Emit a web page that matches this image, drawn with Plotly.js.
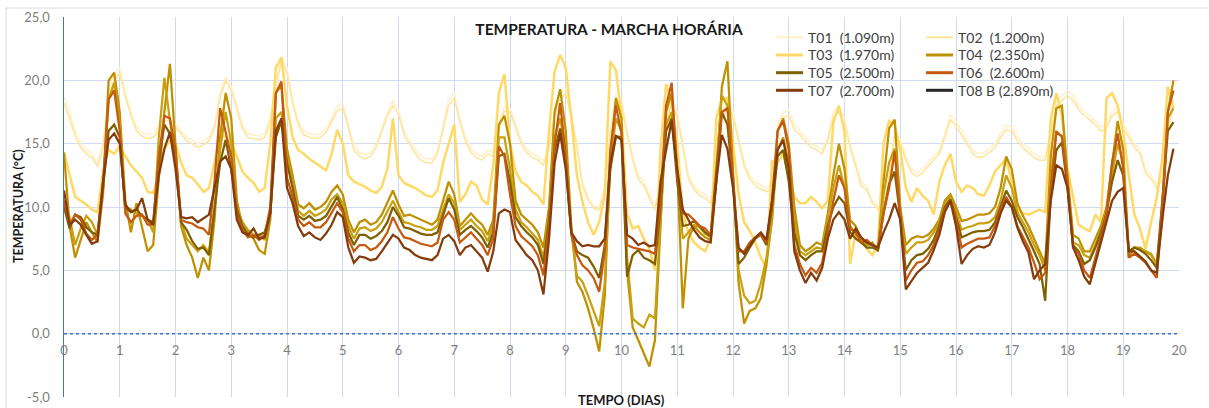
<!DOCTYPE html>
<html><head><meta charset="utf-8">
<script src="https://cdn.plot.ly/plotly-3.0.1.min.js"></script>
<style>html,body{margin:0;padding:0;background:#fff}#chart{width:1209px;height:408px}</style>
</head><body><div id="chart"></div>
<script>
// Values, one reading every 0.1 day (rows = days 0..19)
const T01 = [
18.7,17.5,16.0,15.0,14.5,14.2,13.4,15.0,19.0,20.5,
21.0,19.0,17.5,16.3,15.9,15.7,15.8,16.3,17.0,17.0,
16.5,16.0,15.5,15.3,15.0,15.2,15.5,16.5,19.0,20.3,
19.5,18.0,16.5,15.8,15.7,15.6,15.8,17.0,20.0,21.9,
21.0,18.5,16.8,16.0,15.8,15.7,15.8,16.2,17.0,18.0,
18.2,16.6,14.8,14.3,14.1,14.3,15.0,16.2,17.5,18.4,
17.6,16.0,15.2,14.5,14.0,13.8,13.8,14.5,16.5,18.5,
19.0,17.0,15.5,14.6,14.2,14.0,14.5,14.3,16.5,18.0,
17.8,16.5,15.3,14.6,14.2,14.0,13.6,15.0,17.5,19.0,
19.3,17.5,15.0,12.0,10.8,10.1,10.0,11.5,16.0,18.8,
18.5,16.0,14.0,12.5,12.0,11.0,10.0,12.0,17.0,18.6,
17.5,15.0,12.5,11.7,11.2,11.0,10.6,12.5,17.0,18.5,
17.5,15.5,13.5,12.5,12.0,11.7,11.5,11.8,16.5,17.5,
17.6,16.5,16.0,15.5,15.0,14.8,14.5,15.5,17.5,17.9,
17.0,15.0,13.5,12.0,11.6,10.5,10.0,10.2,12.5,16.0,
15.3,14.0,13.0,12.7,13.0,13.5,14.0,14.5,15.8,17.3,
16.8,16.0,15.3,14.5,14.2,14.3,14.6,15.0,15.8,16.5,
16.3,15.5,15.0,14.6,14.2,14.0,14.0,16.0,18.4,18.8,
19.2,18.8,18.0,17.5,17.2,16.8,16.3,16.5,17.5,17.9,
16.5,15.8,15.0,14.5,13.0,12.5,11.8,12.5,16.5,18.5];
const T02 = [
18.2,17.0,15.6,14.7,14.2,13.9,13.2,14.6,18.5,20.0,
20.6,18.7,17.2,16.0,15.6,15.4,15.5,16.0,16.8,16.9,
16.3,15.8,15.2,15.0,14.7,14.9,15.2,16.2,18.6,20.0,
19.2,17.6,16.2,15.5,15.4,15.3,15.5,16.7,19.5,21.5,
20.6,18.2,16.5,15.7,15.5,15.4,15.5,15.9,16.7,17.6,
17.8,16.3,14.5,14.0,13.8,14.0,14.7,15.9,17.2,18.0,
17.3,15.7,14.9,14.2,13.7,13.5,13.5,14.2,16.1,18.0,
18.6,16.7,15.2,14.3,13.9,13.7,14.2,14.0,16.2,17.6,
17.5,16.2,15.0,14.3,13.9,13.7,13.3,14.7,17.1,18.6,
18.9,17.2,14.7,11.7,10.5,9.9,9.8,11.2,15.7,18.4,
18.1,15.7,13.7,12.2,11.7,10.7,9.8,11.7,16.6,18.2,
17.1,14.7,12.2,11.4,10.9,10.7,10.3,12.2,16.7,18.1,
17.1,15.2,13.2,12.2,11.7,11.4,11.2,11.5,16.1,17.1,
17.2,16.1,15.7,15.2,14.7,14.5,14.2,15.2,17.1,17.5,
16.6,14.7,13.2,11.7,11.3,10.3,9.8,10.0,12.2,15.7,
15.0,13.7,12.7,12.4,12.7,13.2,13.7,14.2,15.5,16.9,
16.4,15.7,15.0,14.2,13.9,14.0,14.3,14.7,15.5,16.1,
16.0,15.2,14.7,14.3,13.9,13.7,13.7,15.7,18.0,18.4,
18.8,18.4,17.7,17.2,16.9,16.5,16.0,16.2,17.2,17.5,
16.2,15.5,14.7,14.2,12.7,12.2,11.5,12.2,16.1,18.0];
const T03 = [
14.3,12.5,10.8,10.5,10.2,9.8,9.6,12.8,14.5,14.2,
14.8,14.0,13.3,12.8,12.3,11.2,11.1,12.5,14.5,15.3,
15.0,13.5,12.5,12.3,11.8,11.2,11.5,13.5,15.8,15.5,
15.0,14.0,12.8,12.3,11.9,11.2,11.5,15.0,21.0,21.8,
18.0,15.5,14.5,14.2,13.8,13.5,13.2,12.9,14.2,16.1,
15.0,12.5,12.0,11.8,11.6,11.3,11.1,11.6,13.0,17.0,
12.5,11.9,11.7,11.5,11.2,10.9,10.8,11.3,13.5,15.0,
16.5,10.4,11.0,12.0,11.7,10.6,10.2,13.3,19.0,20.5,
15.1,12.8,12.0,11.7,11.2,10.9,10.2,16.0,20.7,22.0,
21.0,17.0,12.5,10.4,8.8,7.8,8.8,11.0,21.5,20.8,
17.2,9.5,8.3,8.5,7.5,6.7,5.0,14.6,19.7,18.2,
15.0,9.5,8.0,7.2,6.8,6.5,7.5,17.0,18.5,18.6,
15.1,11.0,8.8,8.1,7.2,6.0,5.2,13.6,13.5,14.2,
12.5,10.8,10.3,10.3,10.8,10.4,9.9,10.5,16.7,18.0,
15.9,5.5,8.0,7.5,6.7,6.2,7.0,15.0,16.8,16.5,
14.5,11.5,10.4,11.5,10.9,10.5,9.4,12.0,13.3,14.2,
12.0,11.2,11.7,11.5,11.0,10.9,11.7,12.8,13.3,13.8,
12.0,9.8,9.5,9.4,9.6,9.8,9.6,17.0,19.0,17.2,
13.0,10.9,8.6,8.3,8.1,9.4,8.8,18.6,19.0,18.0,
15.9,12.5,9.4,8.3,6.7,8.8,10.7,13.8,19.5,17.8];
const T04 = [
14.3,8.5,6.0,7.5,8.8,8.0,7.2,11.0,20.0,20.6,
17.5,10.5,8.0,10.3,8.5,6.5,7.0,12.0,17.5,21.3,
15.0,8.5,7.0,6.0,4.4,6.0,5.0,9.0,15.5,19.0,
17.0,10.5,8.5,8.0,7.5,6.6,6.3,9.0,19.0,19.6,
14.6,12.5,10.2,9.9,10.3,9.8,10.0,10.4,11.2,11.7,
11.0,9.0,8.0,8.8,9.0,8.6,8.8,9.4,10.3,11.3,
10.2,9.3,9.4,9.2,9.0,8.8,8.6,9.0,10.5,12.0,
11.0,8.5,9.0,9.5,9.0,8.6,7.8,9.0,16.5,17.2,
15.0,10.5,9.4,9.0,8.6,8.0,6.8,10.0,17.5,19.3,
16.0,8.5,4.1,3.3,2.0,0.4,-1.4,3.0,14.0,18.6,
17.0,5.0,0.5,-0.5,-1.5,-2.6,-0.5,8.0,17.5,19.0,
13.0,2.0,7.5,8.5,8.0,7.6,7.4,12.0,19.5,21.5,
13.0,4.0,0.8,1.8,2.0,2.8,5.5,9.0,16.0,17.0,
15.0,10.0,7.0,6.5,6.8,7.2,7.0,9.5,12.5,15.0,
13.0,9.0,8.5,7.5,7.0,7.2,6.5,12.0,16.2,16.9,
10.0,7.0,7.5,7.7,7.6,7.8,8.3,9.0,10.5,11.0,
10.0,8.9,9.0,9.2,9.4,9.4,9.5,10.0,11.5,14.0,
13.0,10.3,9.3,8.5,7.5,6.5,5.5,14.0,17.8,18.0,
12.5,7.8,7.5,6.5,6.5,7.5,8.5,10.0,13.5,16.8,
14.5,6.0,6.8,6.8,6.5,6.3,5.5,9.0,17.5,20.0];
// second gold curve visible in the plot (not listed separately in the legend)
const T04_EXTRA = [
10.5,9.2,7.0,8.3,9.3,8.8,7.8,11.5,18.5,19.8,
16.5,10.0,9.8,9.5,9.3,9.0,8.0,15.5,20.2,17.0,
13.5,8.8,7.5,7.0,6.5,7.0,6.4,10.0,14.5,17.5,
15.0,10.0,8.8,8.2,7.8,7.8,7.4,9.5,17.0,17.5,
14.0,12.0,9.7,9.3,9.7,9.3,9.5,9.8,10.6,11.0,
10.3,8.5,7.5,8.3,8.4,8.1,8.3,8.8,9.6,10.5,
9.6,8.8,8.7,8.5,8.4,8.2,8.2,8.5,9.8,11.0,
10.3,8.2,8.6,9.0,8.5,8.1,7.3,8.5,15.5,15.5,
13.0,9.8,8.8,8.4,7.9,7.4,6.0,9.5,15.5,17.0,
14.5,8.0,4.6,4.1,3.0,1.8,0.6,4.0,13.5,17.0,
16.0,6.0,1.2,0.8,0.5,1.5,1.2,9.0,16.5,17.5,
12.5,7.5,8.0,8.6,8.4,7.9,7.6,13.0,18.8,18.0,
12.5,5.0,3.0,2.4,2.6,4.0,6.0,9.0,14.5,15.5,
13.5,9.0,6.5,6.2,6.5,6.8,6.7,9.0,11.5,13.3,
11.5,8.5,7.8,7.2,7.0,7.0,6.6,11.0,13.5,14.6,
9.5,6.3,6.8,7.2,7.2,7.4,8.0,8.8,10.2,10.8,
9.6,8.2,8.4,8.5,8.7,8.7,8.8,9.2,10.5,12.5,
11.5,9.6,8.8,8.0,7.0,6.2,5.0,12.0,16.0,15.5,
12.0,7.2,7.0,6.2,6.0,7.0,8.2,9.8,12.5,15.0,
13.5,6.5,6.8,6.7,6.5,6.2,5.5,10.0,17.0,17.8];
const T05 = [
10.0,8.3,9.4,9.2,8.4,8.0,7.8,11.5,16.0,16.5,
15.5,10.0,9.6,9.8,9.3,9.0,8.8,13.5,16.5,15.8,
14.0,8.8,8.2,7.3,6.7,6.8,6.2,10.0,13.5,15.3,
13.0,9.8,8.5,7.8,7.6,7.8,8.0,9.5,15.5,16.8,
13.5,11.5,9.3,9.0,9.3,8.9,9.0,9.3,10.0,10.8,
9.8,8.0,7.0,7.8,7.8,7.5,7.7,8.1,8.8,10.0,
9.3,8.4,8.3,8.1,7.9,7.8,7.8,8.0,9.3,10.7,
9.8,7.8,8.2,8.5,8.1,7.6,6.8,8.0,14.0,14.2,
12.0,9.2,8.5,8.0,7.6,7.0,5.5,9.0,14.5,16.2,
13.5,8.0,6.5,6.2,6.0,5.3,4.4,7.0,13.0,15.6,
15.5,4.5,6.2,6.6,6.0,5.8,5.5,10.0,16.0,17.0,
12.0,8.5,8.6,8.9,8.5,8.0,7.7,12.5,17.5,16.5,
12.0,5.5,6.0,6.8,7.5,7.8,7.0,10.0,14.0,14.5,
12.0,8.0,6.2,5.8,6.2,6.5,6.5,8.5,10.0,10.8,
10.3,8.0,7.5,7.2,6.8,6.8,6.6,9.5,11.8,12.8,
9.2,5.0,5.8,6.2,6.3,6.7,7.4,8.5,10.0,10.6,
9.2,7.6,7.8,8.0,8.1,8.1,8.2,8.8,10.0,11.3,
10.5,9.2,8.4,7.5,6.5,5.5,2.6,11.0,14.5,15.1,
11.5,7.0,6.5,5.5,5.8,6.8,8.0,9.5,12.0,13.7,
12.5,6.5,6.8,6.6,6.3,5.8,5.2,10.5,16.0,16.7];
const T06 = [
10.5,8.6,9.4,9.0,7.9,7.4,7.8,12.0,18.5,19.2,
16.0,9.5,8.8,9.3,9.4,8.6,8.6,14.0,17.2,17.0,
14.5,9.0,8.8,8.7,8.4,8.3,7.8,12.0,17.8,16.0,
14.0,9.5,8.2,7.6,7.8,7.4,7.8,10.0,19.0,19.9,
12.3,10.8,9.0,8.5,8.8,8.4,8.4,8.8,9.5,10.3,
9.6,7.5,6.5,7.0,7.0,6.6,6.8,7.3,8.0,9.2,
8.3,7.6,7.5,7.3,7.1,7.0,6.9,7.2,9.0,9.6,
9.0,7.2,7.6,8.0,7.5,7.0,6.2,7.5,14.8,14.0,
11.0,8.5,7.7,7.3,6.9,6.2,4.6,8.5,15.0,18.2,
14.0,7.8,6.2,5.4,5.0,4.4,3.3,6.5,14.5,18.0,
15.8,7.0,6.8,6.7,6.6,6.5,6.3,10.5,18.0,19.8,
12.5,9.5,9.4,9.0,8.5,8.3,7.8,12.0,17.5,17.8,
12.3,6.5,6.5,7.2,7.6,7.9,7.2,10.5,16.0,16.8,
14.5,7.0,5.5,4.6,5.2,4.8,5.6,8.0,10.5,12.5,
11.5,8.3,8.0,7.2,7.4,7.0,6.8,9.5,11.5,14.4,
9.5,4.2,5.0,5.6,5.7,6.2,7.0,8.2,9.8,10.5,
9.0,6.8,7.1,7.3,7.5,7.5,7.6,8.5,9.8,10.8,
10.0,8.5,7.6,6.8,5.6,4.3,4.8,11.5,15.9,15.6,
12.0,6.8,6.3,5.0,4.4,6.0,7.6,9.5,13.5,15.8,
13.0,6.0,6.3,6.0,5.6,5.0,4.4,10.0,17.5,19.2];
const T07 = [
11.3,8.6,9.0,8.6,7.8,7.1,7.3,12.0,15.3,15.8,
15.0,10.2,9.6,9.8,10.7,9.0,8.6,12.5,14.6,15.9,
13.0,9.2,9.1,9.2,8.8,9.1,9.4,11.5,13.6,14.0,
13.0,9.0,8.0,7.8,8.3,7.5,7.6,9.5,16.0,17.0,
11.5,10.3,8.5,7.7,8.0,7.6,7.4,7.9,8.6,9.6,
9.2,6.8,5.6,6.1,6.0,5.8,5.9,6.5,7.2,7.8,
7.5,6.8,6.6,6.2,6.0,5.9,5.8,6.2,7.5,7.8,
7.3,6.2,6.8,7.0,6.5,6.0,4.9,6.5,9.5,9.8,
9.6,7.4,6.8,6.2,5.8,5.0,3.1,7.5,13.5,15.8,
13.0,8.0,7.3,6.9,7.0,6.9,6.9,7.5,13.5,15.6,
15.3,7.8,7.5,7.0,7.2,6.9,7.0,12.0,14.5,16.8,
13.0,9.8,9.0,8.2,7.6,7.3,7.2,12.0,15.7,14.6,
11.5,6.8,6.3,7.0,7.6,8.0,7.4,10.5,14.5,15.3,
13.0,6.5,5.0,4.0,4.8,4.2,5.2,7.5,9.0,9.6,
9.0,7.5,8.3,7.6,7.2,7.0,6.8,8.0,9.0,10.3,
9.0,3.5,4.2,4.8,5.2,5.6,6.6,7.8,9.6,10.5,
8.5,5.5,6.2,6.7,6.9,6.8,7.0,8.0,9.5,10.5,
10.0,8.4,7.3,6.4,4.3,5.0,5.5,10.5,13.3,13.0,
11.5,6.8,5.8,4.5,3.9,5.5,7.2,8.8,10.5,11.2,
11.5,6.5,6.5,6.1,5.7,5.0,4.8,9.0,12.5,14.6];
const T08B = []; // no visible curve in the reference

const legendLabels = ['T01\u00a0 (1.090m)','T02\u00a0 (1.200m)','T03\u00a0 (1.970m)','T04\u00a0 (2.350m)',
  'T05\u00a0 (2.500m)','T06\u00a0 (2.600m)','T07\u00a0 (2.700m)','T08 B (2.890m)'];
const xTicks = [0,1,2,3,4,5,6,7,8,9,10,11,12,13,14,15,16,17,18,19,20];
const yTicks = [-5,0,5,10,15,20,25];
const yTickText = ['-5,0','0,0','5,0','10,0','15,0','20,0','25,0'];

const STEP = 0.1;
const days = T01.map((_, i) => Math.round(i * STEP * 10) / 10);

const colors = {T01:'#fff0c8', T02:'#ffe49a', T03:'#ffd966', T04:'#bf9000', T04x:'#c8a010',
  T05:'#7f6000', T06:'#c55a11', T07:'#843c0c', T08:'#262626'};

function tr(y, color, width) {
  return {x: days.slice(0, y.length), y: y, type:'scatter', mode:'lines',
    line:{color: color, width: width}, hoverinfo:'skip', showlegend:false};
}
const traces = [
  tr(T01, colors.T01, 1.5), tr(T02, colors.T02, 1.5), tr(T03, colors.T03, 2.5),
  tr(T04, colors.T04, 2.25), tr(T04_EXTRA, colors.T04x, 2.25), tr(T05, colors.T05, 2.25),
  tr(T06, colors.T06, 2.25), tr(T07, colors.T07, 2.25), tr(T08B, colors.T08, 2.25)
];

// Layout geometry (pixels -> paper)
const L = 64, R = 30, T = 17, B = 11, W = 1209, H = 408;
const PW = W - L - R, PH = H - T - B;
const px = v => (v - L) / PW;
const py = v => (H - B - v) / PH;

const shapes = [
  {type:'line', xref:'x', yref:'y', x0:0, x1:20, y0:0, y1:0, line:{color:'#4472c4', width:1.5, dash:'dot'}},
  {type:'line', xref:'paper', yref:'paper', x0:px(6), x1:px(1209), y0:py(8), y1:py(8), line:{color:'#d9d9d9', width:1}},
  {type:'line', xref:'paper', yref:'paper', x0:px(6), x1:px(6), y0:py(8), y1:py(408), line:{color:'#d9d9d9', width:1}}
];
const annotations = [
  {text:'<b>TEMPO (DIAS)</b>', xref:'paper', yref:'paper', x:px(621), y:py(400), showarrow:false,
   xanchor:'center', yanchor:'middle', font:{size:13, color:'#1a1a1a'}},
  {text:'<b>TEMPERATURA (°C)</b>', xref:'paper', yref:'paper', x:px(18), y:py(206), showarrow:false,
   textangle:-90, xanchor:'center', yanchor:'middle', font:{size:12.5, color:'#1a1a1a'}}
];
// manual two-column legend
const legColors = [colors.T01, colors.T02, colors.T03, colors.T04, colors.T05, colors.T06, colors.T07, colors.T08];
const legWidths = [2, 2, 3, 3, 3, 3, 3, 3];
const rowsY = [37.3, 55, 72.7, 90.3];
legendLabels.forEach((lab, i) => {
  const col = i % 2, row = Math.floor(i / 2);
  const lx0 = col === 0 ? 776 : 926;
  const yy = py(rowsY[row]);
  shapes.push({type:'line', xref:'paper', yref:'paper', x0:px(lx0), x1:px(lx0 + 27), y0:yy, y1:yy,
    line:{color: legColors[i], width: legWidths[i]}});
  annotations.push({text: lab, xref:'paper', yref:'paper', x:px(lx0 + 30), y:yy, showarrow:false,
    xanchor:'left', yanchor:'middle', font:{size:14, color:'#404040'}});
});

const layout = {
  width: W, height: H,
  margin:{l:L, r:R, t:T, b:B, pad:0},
  paper_bgcolor:'#ffffff', plot_bgcolor:'#ffffff',
  separators:',.',
  font:{family:'Lato, "Liberation Sans", sans-serif', size:13, color:'#7f7f7f'},
  showlegend:false,
  title:{text:'<b>TEMPERATURA - MARCHA HORÁRIA</b>', xref:'container', yref:'container',
    x:609/W, y:1 - 30/H, xanchor:'center', yanchor:'middle', font:{size:15.5, color:'#1a1a1a'}},
  xaxis:{range:[0,20], tickvals:xTicks, ticktext:xTicks.map(String), showgrid:true, gridcolor:'#cfdaee', gridwidth:1,
    zeroline:false, showline:false, ticks:'', anchor:'free', position:1/6, ticklabelstandoff:7,
    tickfont:{size:13, color:'#808080'}, fixedrange:true},
  yaxis:{range:[-5,25], tickvals:yTicks, ticktext:yTickText, showgrid:true, gridcolor:'#cfdaee', gridwidth:1,
    zeroline:false, showline:true, linecolor:'#4472c4', linewidth:1.5, ticks:'', ticklabelstandoff:10,
    tickfont:{size:13, color:'#808080'}, fixedrange:true},
  shapes: shapes,
  annotations: annotations
};
Plotly.newPlot('chart', traces, layout, {displayModeBar:false, staticPlot:true});
</script>
</body></html>
